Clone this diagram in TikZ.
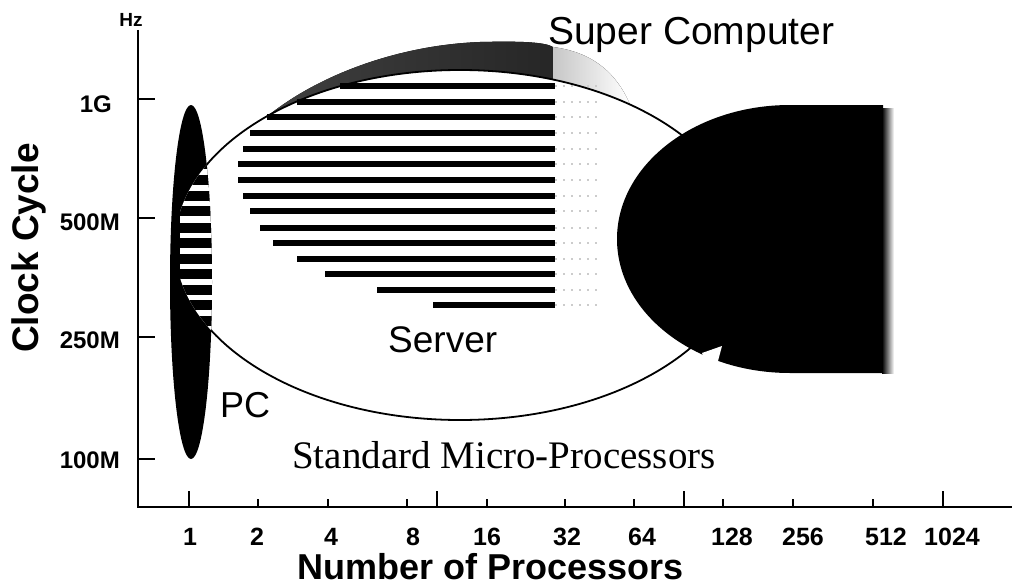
\documentclass[tikz,border=0pt]{standalone}
\usepackage{fontspec}
\setmainfont{Liberation Serif}
\setsansfont{Liberation Sans}
\usepackage{tikz}
\usetikzlibrary{positioning}

\begin{document}
\begin{tikzpicture}[
    x=1pt, y=-1pt,
    txt/.style={inner sep=0pt, anchor=base west, font=\sffamily\fontsize{#1}{#1}\selectfont},
    axlbl/.style={inner sep=0pt, font=\sffamily\bfseries\fontsize{#1}{#1}\selectfont},
    tickmark/.style={line width=1.4pt},
    stripe/.style={line width=6.5pt},
    pcstripe/.style={line width=10pt}
  ]
  \useasboundingbox (0,0) rectangle (1012,586);

  %% ── super computer crescent above the server ellipse ────────────────
  \fill[left color=black!75, middle color=black!35, right color=black!85]
    (268,115.7) .. controls (320,74) and (400,45) .. (480,42)
    .. controls (520,41) and (545,42) .. (553,47) -- (553,79.6)
    arc[start angle=70.95, end angle=132.4, x radius=285pt, y radius=175pt] -- cycle;
  \fill[left color=black!22, right color=white]
    (553,47) .. controls (590,52) and (615,70) .. (630,104.5)
    arc[start angle=53.4, end angle=70.95, x radius=285pt, y radius=175pt] -- cycle;

  %% ── server stripes ──────────────────────────────────────────────────
  \foreach \y/\xl in {86/340, 102/297, 117/267, 133/250, 149/243, 164/238,
                      180/238, 196/243, 211/250, 228/260, 243/273, 259/297,
                      274/325, 290/377, 305/433} {
    \draw[stripe] (\xl,\y) -- (555,\y);
    \draw[black!20, line width=2pt, dash pattern=on 2pt off 6pt] (555,\y) -- (600,\y);
  }

  %% ── server ellipse ──────────────────────────────────────────────────
  \draw[line width=1.8pt] (460,245) ellipse [x radius=285pt, y radius=175pt];

  %% ── PC ellipse, with the server stripes running through it ──────────
  \fill (191,282) ellipse [x radius=21pt, y radius=177pt];
  \begin{scope}
    \clip (191,282) ellipse [x radius=21pt, y radius=177pt];
    \clip (460,245) ellipse [x radius=285pt, y radius=175pt];
    \fill[white] (180,100) rectangle (215,460);
    \foreach \y in {164,180,196,211,228,243,259,274,290,305,321}
      \draw[pcstripe] (170,\y) -- (215,\y);
  \end{scope}

  %% ── super computer block ────────────────────────────────────────────
  \fill (790,105) arc[start angle=90, end angle=270, x radius=173pt, y radius=134pt]
    -- (883,373) -- (883,105) -- cycle;
  \fill[left color=black, right color=white] (882,108) rectangle (894,373);
  \fill[white] (702,353) -- (722,346) -- (718,361) -- (705,361) -- cycle;

  %% ── axes ────────────────────────────────────────────────────────────
  \coordinate (top) at (138,30);
  \coordinate (o)   at (138,507);
  \coordinate (end) at (1012,507);
  \draw[line width=1.6pt] (top) -- (o) -- (end);

  \foreach \y/\v/\xr/\b in {99/1G/112/112, 218/500M/120/230, 337/250M/120/348, 459/100M/120/468} {
    \draw[tickmark] (138,\y) -- (155,\y);
    \node[axlbl=24, anchor=base east] (y\v) at (\xr,\b) {\v};
  }
  \node[axlbl=19, anchor=base] (hz) at (131,27) {Hz};

  \foreach \x in {258,328,407,487,565,634,723,793,873}
    \draw[tickmark] (\x,499) -- (\x,507);
  \foreach \x in {189,437,684,943}
    \draw[tickmark] (\x,491) -- (\x,507);

  \foreach \x/\v in {190/1, 257/2, 331/4, 413/8, 487/16, 567/32, 642/64,
                     732/128, 803/256, 886/512, 952/1024}
    \node[axlbl=25, anchor=base] (x\v) at (\x,545) {\v};

  \node[axlbl=36, anchor=base west] (xtitle) at (297,579) {Number of Processors};
  \node[axlbl=37, anchor=base, rotate=90] (ytitle) at (38,248) {Clock Cycle};

  %% ── region labels ───────────────────────────────────────────────────
  \node[txt=39] (super)  at (548,45)  {Super Computer};
  \node[txt=37] (server) at (388,352) {Server};
  \node[txt=36] (pc)     at (220,417) {PC};
  \node[inner sep=0pt, anchor=base west, font=\rmfamily\fontsize{39}{39}\selectfont]
        (micro) at (292,468) {Standard Micro-Processors};

\end{tikzpicture}
\end{document}
